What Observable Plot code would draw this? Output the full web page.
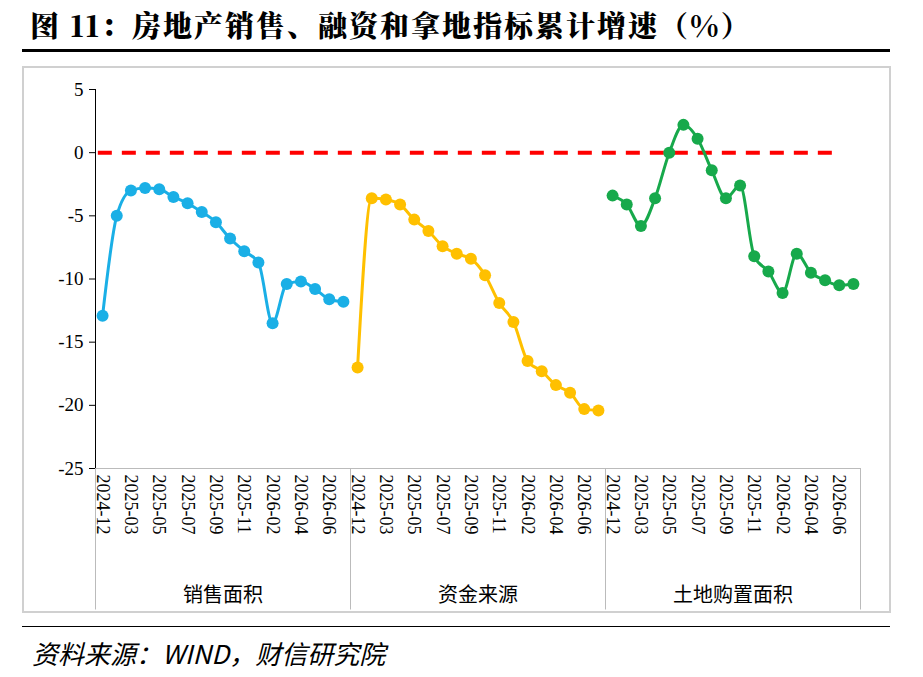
<!DOCTYPE html>
<html><head><meta charset="utf-8">
<script src="https://cdn.jsdelivr.net/npm/d3@7"></script>
<script src="https://cdn.jsdelivr.net/npm/@observablehq/plot@0.6"></script>
<style>
body{margin:0;background:#fff;width:923px;height:677px;position:relative;overflow:hidden;font-family:"Noto Sans CJK SC",sans-serif}
#title{position:absolute;left:30px;top:4px;font-size:29px;font-weight:900;font-family:"Noto Serif CJK SC","Noto Sans CJK SC",serif;letter-spacing:2px}
#rule{position:absolute;left:22px;top:49px;width:868px;height:3px;background:#000}
#frame{position:absolute;left:22px;top:66px;width:865px;height:543px;border:2px solid #d0d0d0}
#chart{position:absolute;left:0;top:60px}
#src{position:absolute;left:32px;top:634px;font-size:26px;font-style:italic}
#rule2{position:absolute;left:22px;top:626px;width:868px;height:1px;background:#000}
</style></head><body>
<div id="title">图 11：房地产销售、融资和拿地指标累计增速（%）</div>
<div id="rule"></div>
<div id="frame"></div>
<div id="chart"></div>
<div id="rule2"></div>
<div id="src">资料来源：WIND，财信研究院</div>
<script>
const months=["2024-12","2025-02","2025-03","2025-04","2025-05","2025-06","2025-07","2025-08","2025-09","2025-10","2025-11","2025-12","2026-02","2026-03","2026-04","2026-05","2026-06","2026-07"];
const groups=["销售面积","资金来源","土地购置面积"];
const colors=["#1AAFE6","#FFC000","#17A94B"];
const yTicks=[5,0,-5,-10,-15,-20,-25];
const sales=[-12.9,-5,-3,-2.8,-2.9,-3.5,-4,-4.7,-5.5,-6.8,-7.8,-8.7,-13.5,-10.4,-10.2,-10.8,-11.6,-11.8];
const funds=[-17,-3.6,-3.7,-4.1,-5.3,-6.2,-7.4,-8,-8.4,-9.7,-11.9,-13.4,-16.5,-17.3,-18.4,-19,-20.3,-20.4];
const land=[-3.4,-4.1,-5.8,-3.6,0,2.2,1.1,-1.4,-3.6,-2.6,-8.2,-9.4,-11.1,-8,-9.5,-10.1,-10.5,-10.4];
const series=[sales,funds,land];
const data=[];
series.forEach((s,g)=>s.forEach((v,j)=>data.push({i:g*18+j,g,v,m:months[j]})));
const labels=data.filter(d=>d.i%18%2===0&&d.i%18<=16);
const seps=[-0.5,17.5,35.5,53.5];
const mid=groups.map((n,g)=>({x:g*18+8.5,n}));
const chart=Plot.plot({
 width:923,height:550,marginLeft:95,marginRight:63,marginTop:29,marginBottom:142,
 style:{fontFamily:"Liberation Serif, serif",fontSize:"18px",background:"transparent",overflow:"visible"},
 x:{domain:[-0.5,53.5],axis:null},
 y:{domain:[-25,5]},
 color:{domain:[0,1,2],range:colors},
 marks:[
  Plot.axisY({ticks:yTicks,tickSize:6,tickPadding:6,label:null,fontSize:19,tickFormat:d=>String(d)}),
  Plot.ruleX([-0.5],{y1:-25,y2:5,stroke:"#000"}),
  Plot.ruleY([-25],{x1:-0.5,x2:53.5,stroke:"#bbb"}),
  Plot.ruleX(seps,{y1:-25,y2:-36.2,stroke:"#bbb"}),
  Plot.ruleY([0],{x1:-0.3,x2:52,stroke:"#FF0000",strokeWidth:4,strokeDasharray:"14,10"}),
  Plot.line(data,{x:"i",y:"v",z:"g",stroke:"g",strokeWidth:3,curve:"monotone-x"}),
  Plot.dot(data,{x:"i",y:"v",fill:"g",r:6}),
  Plot.text(labels,{x:"i",y:()=>-25,text:"m",rotate:90,textAnchor:"start",dy:6,fontSize:18,fill:"#000"}),
  Plot.text(mid,{x:"x",y:()=>-25,text:"n",dy:127,fontSize:20,fontFamily:"Noto Sans CJK SC",fill:"#000"})
 ]
});
document.getElementById("chart").appendChild(chart);
</script></body></html>
